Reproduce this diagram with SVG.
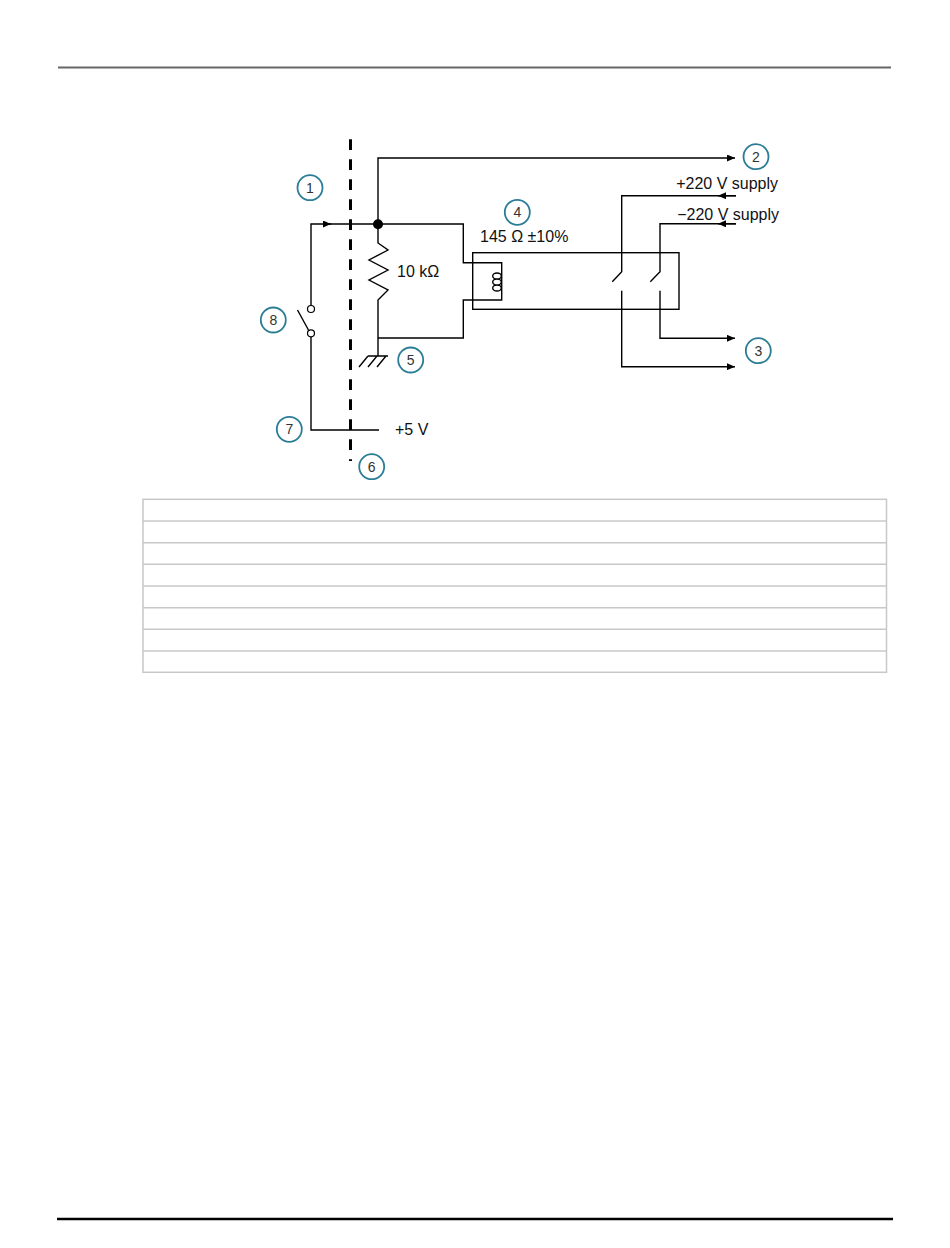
<svg xmlns="http://www.w3.org/2000/svg" width="950" height="1248" viewBox="0 0 950 1248">
<style>
.w{fill:none;stroke:#000;stroke-width:1.4}
.t{font-family:"Liberation Sans",Arial,sans-serif;font-size:16px;fill:#111}
.c circle{fill:#fff;stroke:#2b7d95;stroke-width:1.8}
.c text{font-family:"Liberation Sans",Arial,sans-serif;font-size:14px;fill:#333;text-anchor:middle}
.tb{fill:none;stroke:#c8c8c8;stroke-width:1.5}
</style>
<defs>
<marker id="ar" markerWidth="9" markerHeight="7" refX="8" refY="3.5" orient="auto" markerUnits="userSpaceOnUse">
<path d="M0,0 L8,3.5 L0,7 Z" fill="#000"/>
</marker>
</defs>
<rect width="950" height="1248" fill="#fff"/>
<line x1="58" y1="67.5" x2="891" y2="67.5" stroke="#666" stroke-width="2"/>
<line x1="57" y1="1219" x2="893" y2="1219" stroke="#000" stroke-width="2.5"/>

<g id="connectors">
<line x1="350.5" y1="139.3" x2="350.5" y2="461" stroke="#000" stroke-width="3" stroke-dasharray="10.7 9.3"/>
<path class="w" d="M378,224 V158 H735" marker-end="url(#ar)"/>
<path class="w" d="M311,305.5 V224 H331" marker-end="url(#ar)"/>
<path class="w" d="M328,224 H463.3 V262.7 H501.7 V300 H463.3 V338 H378"/>
<path class="w" d="M378,224 V243 L388,250 L369,260 L388,270 L369,280 L388,290 L378,300 V356"/>
<path class="w" d="M368,356 H388 M368,356 L359,367 M377,356 L368,367 M386,356 L377,367"/>
<path class="w" d="M311,336.8 V430 H379"/>
<path class="w" d="M297.5,310 L309,331"/>
<circle cx="311" cy="309" r="3.5" fill="#fff" stroke="#000" stroke-width="1.2"/>
<circle cx="311" cy="333.3" r="3.5" fill="#fff" stroke="#000" stroke-width="1.2"/>
<circle cx="378" cy="224.3" r="5" fill="#000"/>
<rect class="w" x="472.7" y="252.7" width="206.3" height="56.6"/>
<path class="w" d="M497,273 a4.3,3 0 1 0 0,6 a4.3,3 0 1 0 0,6 a4.3,3 0 1 0 0,6 M497,273 a4.3,3 0 1 1 0,6 a4.3,3 0 1 1 0,6 a4.3,3 0 1 1 0,6" stroke-width="1.1"/>
<path class="w" d="M736,195.7 H621.7 V271.7 L612.3,281.7"/>
<path class="w" d="M736,195.7 H718" marker-end="url(#ar)"/>
<path class="w" d="M736,223.8 H660 V271.7 L650.3,281.7"/>
<path class="w" d="M736,223.8 H718" marker-end="url(#ar)"/>
<path class="w" d="M621.7,290.7 V366.7 H735" marker-end="url(#ar)"/>
<path class="w" d="M660,290.7 V338.3 H735" marker-end="url(#ar)"/>
</g>

<g id="labels">
<text class="t" x="397" y="276.5">10 kΩ</text>
<text class="t" x="395" y="435">+5 V</text>
<text class="t" x="480" y="242">145 Ω ±10%</text>
<text class="t" x="778" y="189.3" text-anchor="end">+220 V supply</text>
<text class="t" x="779" y="220" text-anchor="end">−220 V supply</text>
</g>

<g id="n1" class="c"><circle cx="310" cy="187.7" r="12.5"/><text x="310" y="192.7">1</text></g>
<g id="n2" class="c"><circle cx="756" cy="156.7" r="12.5"/><text x="756" y="161.7">2</text></g>
<g id="n3" class="c"><circle cx="758.3" cy="350.7" r="12.5"/><text x="758.3" y="355.7">3</text></g>
<g id="n4" class="c"><circle cx="517.3" cy="212.3" r="12.5"/><text x="517.3" y="217.3">4</text></g>
<g id="n5" class="c"><circle cx="410.7" cy="360" r="12.5"/><text x="410.7" y="365">5</text></g>
<g id="n6" class="c"><circle cx="371.7" cy="466.7" r="12.5"/><text x="371.7" y="471.7">6</text></g>
<g id="n7" class="c"><circle cx="289.3" cy="429.3" r="12.5"/><text x="289.3" y="434.3">7</text></g>
<g id="n8" class="c"><circle cx="273.3" cy="320" r="12.5"/><text x="273.3" y="325">8</text></g>

<g id="table">
<rect class="tb" x="143" y="499.3" width="743.5" height="173"/>
<line class="tb" x1="143" y1="521" x2="886.5" y2="521"/>
<line class="tb" x1="143" y1="542.7" x2="886.5" y2="542.7"/>
<line class="tb" x1="143" y1="564.3" x2="886.5" y2="564.3"/>
<line class="tb" x1="143" y1="586" x2="886.5" y2="586"/>
<line class="tb" x1="143" y1="607.7" x2="886.5" y2="607.7"/>
<line class="tb" x1="143" y1="629.3" x2="886.5" y2="629.3"/>
<line class="tb" x1="143" y1="651" x2="886.5" y2="651"/>
</g>
</svg>
